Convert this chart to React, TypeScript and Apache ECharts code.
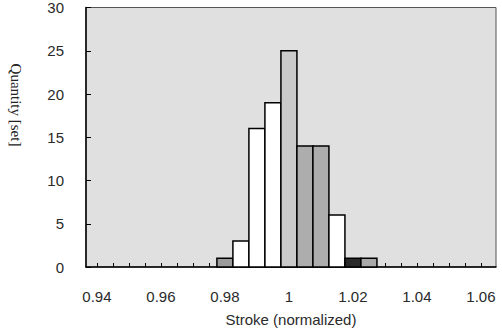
import React, { useEffect, useRef } from 'react';
import * as echarts from 'echarts';

const binCenters = [0.98, 0.985, 0.99, 0.995, 1.0, 1.005, 1.01, 1.015, 1.02, 1.025];
const quantities = [1, 3, 16, 19, 25, 14, 14, 6, 1, 1];
const binFills = ['#9a9a9a', '#ffffff', '#ffffff', '#ffffff', '#cacaca', '#adadad', '#adadad', '#ffffff', '#2a2a2a', '#a9a9a9'];
const binWidth = 0.005;
const xTickLabels = [0.94, 0.96, 0.98, 1.0, 1.02, 1.04, 1.06];
const xTicks = [0.94, 0.945, 0.95, 0.955, 0.96, 0.965, 0.97, 0.975, 0.98, 0.985, 0.99, 0.995, 1.0, 1.005, 1.01, 1.015, 1.02, 1.025, 1.03, 1.035, 1.04, 1.045, 1.05, 1.055, 1.06];
const xTitle = 'Stroke (normalized)';
const yTitle = 'Quantity [set]';

export default function App() {
  const ref = useRef<HTMLDivElement>(null);
  useEffect(() => {
    document.body.style.margin = '0';
    if (!ref.current) return;
    const chart = echarts.init(ref.current, null, { renderer: 'svg' });
    const fmt = (v: number) => String(Number(Number(v).toFixed(3)));
    chart.setOption({
      animation: false,
      backgroundColor: '#ffffff',
      grid: {
        left: 86, right: 6, top: 7, bottom: 64,
        show: true, backgroundColor: '#e0e0e0', borderColor: '#555', borderWidth: 1,
      },
      xAxis: {
        type: 'value',
        min: 0.9366,
        max: 1.0647,
        axisLine: { show: true, lineStyle: { color: '#000', width: 1.5 } },
        axisTick: { show: true, inside: true, length: 4, customValues: xTicks, lineStyle: { color: '#000' } },
        axisLabel: {
          customValues: xTickLabels, formatter: fmt, margin: 22,
          fontFamily: 'Liberation Sans', fontSize: 15, color: '#2a2a2a',
        },
        splitLine: { show: false },
        name: xTitle,
        nameLocation: 'middle',
        nameGap: 45,
        nameTextStyle: { fontFamily: 'Liberation Sans', fontSize: 15, color: '#2a2a2a' },
      },
      yAxis: {
        type: 'value',
        min: 0, max: 30, interval: 5,
        axisLine: { show: true, lineStyle: { color: '#000', width: 1.5 } },
        axisTick: { show: true, inside: true, length: 5, lineStyle: { color: '#000' } },
        axisLabel: {
          margin: 22, fontFamily: 'Liberation Sans', fontSize: 15, color: '#2a2a2a',
          padding: [10, 0, 0, 0],
        },
        splitLine: { show: false },
      },
      graphic: [
        {
          type: 'text', x: 16, y: 105, rotation: -Math.PI / 2,
          style: {
            text: yTitle, fontFamily: 'Liberation Serif', fontSize: 15,
            fill: '#222', align: 'center', verticalAlign: 'middle',
          },
        },
      ],
      series: [
        {
          type: 'custom',
          data: binCenters.map((c, i) => [c, quantities[i]]),
          encode: { x: 0, y: 1 },
          renderItem: (params: any, api: any) => {
            const c = api.value(0);
            const q = api.value(1);
            const p0 = api.coord([c - binWidth / 2, q]);
            const p1 = api.coord([c + binWidth / 2, 0]);
            return {
              type: 'rect',
              shape: { x: p0[0], y: p0[1], width: p1[0] - p0[0], height: p1[1] - p0[1] },
              style: { fill: binFills[params.dataIndex], stroke: '#000', lineWidth: 1.5 },
            };
          },
        },
      ],
    });
    return () => chart.dispose();
  }, []);
  return <div ref={ref} style={{ width: 502, height: 332 }} />;
}
